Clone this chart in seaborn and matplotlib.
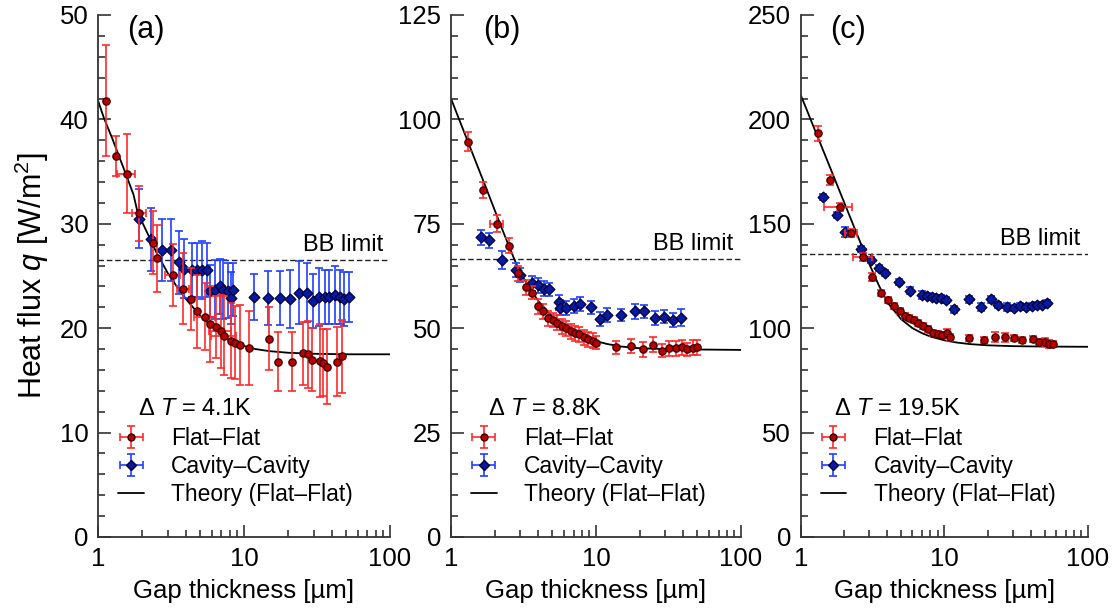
import numpy as np
import matplotlib
matplotlib.use("Agg")
import matplotlib.pyplot as plt
import seaborn as sns
from matplotlib.lines import Line2D
from matplotlib.ticker import MultipleLocator, LogLocator, FixedLocator, FixedFormatter, NullFormatter

# ---------------- data ----------------
# Panel (a)  dT = 4.1 K
a_red_g = [1.14, 1.32, 1.58, 1.91, 2.38, 2.53, 3.27, 3.82, 4.35, 4.79, 5.43, 5.88, 6.46, 7.0, 7.35,
           8.2, 8.74, 9.33, 10.8, 14.8, 17.0, 21.3, 25.3, 27.5, 29.2, 33.2, 34.7, 37.1, 43.6, 47.0]
a_red_q = [41.8, 36.5, 34.8, 31.0, 28.2, 26.7, 25.1, 23.8, 22.8, 21.6, 21.1, 20.4, 20.1, 19.7, 19.3,
           18.8, 18.6, 18.4, 18.1, 19.0, 16.8, 16.8, 17.6, 17.5, 17.0, 16.9, 16.7, 16.3, 16.8, 17.3]
a_red_err = [5.3, 1.9, 3.8, 2.6, 3.0, 3.2, 3.0, 3.4, 3.0, 3.5, 3.2, 3.6, 3.0, 3.5, 3.8,
             3.6, 3.5, 3.8, 3.5, 3.0, 2.8, 2.8, 3.0, 3.2, 3.0, 3.5, 3.2, 3.6, 3.3, 3.5]
a_red_xerr = [0, 0, 0.22, 0.21, 0, 0, 0.4, 0.35, 0, 0, 0.9, 0, 0, 1.2, 1.4,
              0, 0, 0, 0, 0, 0, 0, 0, 0, 0, 0, 0, 0, 0, 0]
a_blue_g = [1.91, 2.31, 2.73, 3.17, 3.60, 3.88, 4.40, 4.79, 5.18, 5.61, 5.88, 6.37, 6.80, 7.23, 7.76,
            8.1, 8.4, 11.8, 14.7, 17.6, 20.7, 23.9, 26.9, 29.8, 32.8, 36.1, 38.5, 41.7, 45.2, 48.1, 52.3]
a_blue_q = [30.5, 28.5, 27.5, 27.5, 26.3, 25.7, 25.6, 25.6, 25.6, 25.6, 23.6, 23.7, 24.0, 23.7, 23.6,
            22.9, 23.7, 23.0, 22.9, 22.9, 22.8, 23.4, 23.4, 22.6, 23.0, 23.0, 23.0, 23.2, 23.0, 22.8, 23.0]
a_blue_err = [2.8, 3.0, 3.0, 3.0, 3.0, 2.8, 2.6, 2.6, 2.8, 2.6, 2.5, 2.8, 2.6, 2.8, 2.6,
              2.5, 2.5, 2.2, 2.6, 2.6, 2.8, 3.0, 2.8, 2.6, 2.8, 2.6, 2.6, 2.8, 2.6, 2.6, 2.4]
a_theory_g = [1, 1.1, 1.25, 1.5, 1.75, 1.86, 2, 2.25, 2.5, 3, 3.5, 4, 5, 6, 7, 8, 10, 12, 15, 20, 30, 50, 100]
a_theory_q = [41.8, 40.1, 38.2, 35.3, 32.8, 31.2, 30.2, 28.7, 27.3, 25.3, 23.9, 22.8, 21.2, 20.2, 19.5,
              18.8, 18.3, 18.0, 17.8, 17.65, 17.55, 17.5, 17.5]
a_bb = 26.5

# Panel (b)  dT = 8.8 K
b_red_g = [1.30, 1.65, 2.07, 2.51, 2.91, 3.29, 3.60, 4.0, 4.33, 4.69, 5.02, 5.41, 5.80, 6.21, 6.69, 7.16,
           7.67, 8.26, 8.85, 9.49, 10.0, 13.7, 17.4, 21.0, 24.6, 28.4, 32.0, 35.6, 39.0, 42.6, 46.4, 50.0]
b_red_q = [94.7, 83.1, 75.0, 69.7, 63.1, 59.8, 58.5, 55.3, 54.0, 52.4, 52.0, 51.3, 50.5, 50.0, 49.3, 48.8,
           48.6, 47.8, 47.3, 47.0, 46.5, 45.4, 45.7, 44.9, 46.0, 44.6, 45.2, 45.2, 45.4, 44.9, 45.3, 45.4]
b_red_err = [2.2, 2.0, 2.0, 1.8, 1.8, 1.8, 1.6, 1.8, 1.8, 1.8, 1.6, 1.8, 1.8, 1.8, 1.8, 1.8,
             1.8, 1.8, 1.8, 1.8, 1.6, 1.6, 1.6, 1.8, 1.8, 1.6, 1.8, 1.8, 1.8, 1.6, 1.8, 1.8]
b_red_xerr = [0, 0, 0.2, 0, 0, 0, 0, 0, 0, 0, 0, 0, 0, 0, 0, 0,
              0, 0, 0, 0, 0, 0, 0, 0, 0, 0, 0, 0, 0, 0, 0, 0]
b_blue_g = [1.60, 1.83, 2.26, 2.81, 2.99, 3.60, 4.0, 4.38, 4.76, 5.58, 5.65, 6.21, 7.05, 7.76, 9.19,
            10.7, 11.9, 14.8, 18.6, 21.5, 25.5, 29.6, 33.8, 38.4]
b_blue_q = [71.8, 71.1, 66.3, 63.9, 62.7, 60.8, 60.3, 59.5, 59.3, 56.2, 54.9, 54.8, 55.3, 55.8, 55.0,
            52.2, 53.2, 53.2, 54.0, 54.0, 52.4, 52.8, 52.0, 52.5]
b_blue_err = [1.8, 1.8, 2.2, 1.6, 1.6, 1.8, 1.8, 1.8, 1.6, 1.8, 1.8, 1.6, 1.6, 1.6, 1.6,
              1.6, 1.6, 1.4, 1.8, 1.6, 1.6, 1.6, 1.6, 2.0]
b_theory_g = [1, 1.1, 1.25, 1.5, 1.75, 2, 2.25, 2.5, 2.75, 3, 3.5, 4, 5, 6, 7, 8, 10, 12, 15, 20, 30, 50, 100]
b_theory_q = [105.0, 101.3, 96.4, 89.4, 83.5, 78.3, 73.8, 69.8, 66.3, 63.3, 59.5, 56.5, 52.8, 50.6, 49.2,
              48.2, 46.9, 46.2, 45.6, 45.2, 45.0, 44.9, 44.8]
b_bb = 66.6

# Panel (c)  dT = 19.5 K
c_red_g = [1.31, 1.60, 1.87, 2.25, 2.72, 3.15, 3.63, 4.04, 4.45, 4.89, 5.28, 5.65, 6.12, 6.56, 7.11,
           7.66, 8.34, 8.98, 9.64, 10.4, 10.9, 14.8, 18.8, 22.6, 26.5, 30.3, 34.6, 41.7, 45.9, 50.3, 53.6, 57.4]
c_red_q = [193.3, 171.0, 157.9, 145.7, 134.0, 124.4, 117.0, 113.5, 110.6, 108.4, 105.8, 105.0, 103.9, 102.6,
           101.1, 99.5, 97.8, 97.2, 96.7, 97.5, 95.6, 95.2, 94.3, 95.9, 95.6, 95.2, 94.3, 94.8, 93.5, 93.5, 92.4, 92.4]
c_red_err = [3.5, 2.5, 2.0, 2.0, 2.0, 2.0, 1.5, 1.5, 1.5, 1.5, 1.5, 1.5, 1.5, 1.5, 1.5,
             1.5, 1.5, 1.5, 1.5, 2.0, 1.5, 1.5, 1.5, 2.5, 2.0, 1.5, 1.5, 1.5, 1.5, 2.0, 2.0, 1.5]
c_red_xerr = [0, 0, 0.42, 0.22, 0.4, 0, 0, 0, 0, 0, 0, 0, 0, 0, 0,
              0, 0, 0, 0, 0, 0, 0, 0, 0, 0, 0, 0, 0, 0, 0, 0, 0]
c_blue_g = [1.44, 1.80, 2.05, 2.64, 3.10, 3.50, 3.89, 4.82, 5.8, 7.0, 7.58, 8.21, 8.8, 9.48, 10.3,
            11.7, 14.8, 18.0, 21.1, 23.8, 27.2, 30.3, 33.7, 37.1, 40.6, 44.0, 47.7, 51.7]
c_blue_q = [162.7, 154.2, 146.2, 137.8, 132.5, 129.0, 126.6, 122.3, 118.0, 115.9, 115.4, 115.1, 114.6, 114.3,
            113.5, 109.0, 113.8, 110.0, 113.8, 111.1, 110.0, 109.5, 110.6, 110.0, 110.6, 111.1, 111.1, 111.9]
c_blue_err = [1.5, 1.5, 2.5, 1.5, 1.5, 1.5, 1.5, 1.5, 1.5, 2.0, 1.5, 1.5, 1.5, 1.5, 1.5,
              1.5, 1.5, 2.0, 1.5, 1.5, 2.0, 1.5, 1.5, 1.5, 1.5, 1.5, 1.5, 1.5]
c_theory_g = [1, 1.1, 1.25, 1.5, 1.75, 2, 2.25, 2.5, 2.75, 3, 3.5, 4, 5, 6, 7, 8, 10, 12, 15, 20, 30, 50, 100]
c_theory_q = [211.7, 204.7, 195.2, 181.8, 170.4, 160.5, 151.8, 144.0, 137.0, 130.8, 120.5, 112.5, 104.3,
              100.0, 97.6, 96.0, 94.2, 93.2, 92.4, 91.8, 91.4, 91.2, 91.1]
c_bb = 135.5

panel_labels = ["(a)", "(b)", "(c)"]
dT_labels = ["4.1K", "8.8K", "19.5K"]
y_tops = [50, 125, 250]
y_steps = [10, 25, 50]
x_ticks = [1, 10, 100]
x_tick_labels = ["1", "10", "100"]
legend_labels = ["Flat–Flat", "Cavity–Cavity", "Theory (Flat–Flat)"]

# ---------------- style ----------------
sns.set_theme(style="ticks")
plt.rcParams["font.family"] = ["Liberation Sans", "DejaVu Sans"]
plt.rcParams["mathtext.fontset"] = "custom"
plt.rcParams["mathtext.rm"] = "Liberation Sans"
plt.rcParams["mathtext.it"] = "Liberation Sans:italic"
for k in ("text.color", "axes.labelcolor", "xtick.labelcolor", "ytick.labelcolor"):
    plt.rcParams[k] = "black"

RED_F, RED_EDGE, RED_E = "#b80000", "#3a0000", "#ff2a2a"
BLUE_F, BLUE_EDGE, BLUE_E = "#0a1aa0", "#00003a", "#2040ff"

fig = plt.figure(figsize=(11.19, 6.11), dpi=100)
W, H = 1119.0, 611.0
rects = [(98, 390), (451, 741), (800.7, 1088)]
y_bot, y_top_px = 537, 15

panels = [
    (a_red_g, a_red_q, a_red_err, a_red_xerr, a_blue_g, a_blue_q, a_blue_err, a_theory_g, a_theory_q, a_bb),
    (b_red_g, b_red_q, b_red_err, b_red_xerr, b_blue_g, b_blue_q, b_blue_err, b_theory_g, b_theory_q, b_bb),
    (c_red_g, c_red_q, c_red_err, c_red_xerr, c_blue_g, c_blue_q, c_blue_err, c_theory_g, c_theory_q, c_bb),
]
dT_x = [0.137, 0.128, 0.115]
bb_x = [0.976, 0.972, 0.973]
lab_x = [0.099, 0.11, 0.102]

for i, (rg, rq, re, rxe, bg, bq, be, tg, tq, bb) in enumerate(panels):
    x0, x1 = rects[i]
    ax = fig.add_axes([x0 / W, 1 - y_bot / H, (x1 - x0) / W, (y_bot - y_top_px) / H])
    ax.set_xscale("log")

    rg, rq, re, rxe = map(np.asarray, (rg, rq, re, rxe))
    bg, bq, be = map(np.asarray, (bg, bq, be))

    # theory curve
    sns.lineplot(x=tg, y=tq, ax=ax, color="black", lw=1.3, zorder=2, legend=False)
    # blackbody limit
    ax.axhline(bb, color="#222222", ls=(0, (4, 2)), lw=1.0, zorder=1)
    ax.annotate("BB limit", xy=(bb_x[i], bb), xycoords=("axes fraction", "data"),
                xytext=(0, 3), textcoords="offset points", ha="right", va="bottom", fontsize=17)

    # blue (cavity-cavity)
    ax.errorbar(bg, bq, yerr=be, fmt="none", ecolor=BLUE_E, elinewidth=1.2, capsize=3, capthick=1.2, zorder=3)
    sns.scatterplot(x=bg, y=bq, ax=ax, marker="D", s=30, color=BLUE_F, edgecolor=BLUE_EDGE,
                    linewidth=0.9, zorder=4, legend=False)
    # red (flat-flat)
    ax.errorbar(rg, rq, yerr=re, fmt="none", ecolor=RED_E, elinewidth=1.2, capsize=3, capthick=1.2, zorder=5)
    m = rxe > 0
    ax.errorbar(rg[m], rq[m], xerr=rxe[m], fmt="none", ecolor=RED_E, elinewidth=1.2, capsize=3,
                capthick=1.2, zorder=5)
    sns.scatterplot(x=rg, y=rq, ax=ax, marker="o", s=28, color=RED_F, edgecolor=RED_EDGE,
                    linewidth=0.9, zorder=6, legend=False)

    # axes setup
    ax.set_xlim(1, 100)
    ax.set_ylim(0, y_tops[i])
    ax.xaxis.set_major_locator(FixedLocator(x_ticks))
    ax.xaxis.set_major_formatter(FixedFormatter(x_tick_labels))
    ax.xaxis.set_minor_locator(LogLocator(base=10, subs=np.arange(2, 10)))
    ax.xaxis.set_minor_formatter(NullFormatter())
    ax.yaxis.set_major_locator(MultipleLocator(y_steps[i]))
    ax.yaxis.set_minor_locator(MultipleLocator(y_steps[i] / 5))
    ax.tick_params(which="both", direction="in", width=1.2, color="#333333", labelsize=18.5,
                   labelcolor="black")
    ax.tick_params(which="major", length=9, pad=7)
    ax.tick_params(which="minor", length=5)
    for s in ("top", "right"):
        ax.spines[s].set_visible(False)
    for s in ("left", "bottom"):
        ax.spines[s].set_linewidth(1.3)
        ax.spines[s].set_color("#333333")
    ax.set_xlabel("Gap thickness [µm]", fontsize=18.5, labelpad=6, color="black")
    if i == 0:
        ax.set_ylabel("Heat flux $q$ [W/m$^2$]", fontsize=22, labelpad=6, color="black")
    else:
        ax.set_ylabel("")

    ax.text(lab_x[i], 1.0, panel_labels[i], transform=ax.transAxes, fontsize=22, va="top", ha="left",
            color="black")
    ax.text(dT_x[i], 0.245, "Δ $T$ = " + dT_labels[i], transform=ax.transAxes, fontsize=17,
            va="center", ha="left", color="black")

    # legend proxies
    h_red = ax.errorbar([np.nan], [np.nan], xerr=[1], yerr=[1], fmt="o", ms=5, mfc=RED_F, mec=RED_EDGE,
                        ecolor=RED_E, elinewidth=1.2, capsize=3, capthick=1.2)
    h_blue = ax.errorbar([np.nan], [np.nan], xerr=[1], yerr=[1], fmt="D", ms=5, mfc=BLUE_F, mec=BLUE_EDGE,
                         ecolor=BLUE_E, elinewidth=1.2, capsize=3, capthick=1.2)
    h_th = Line2D([], [], color="black", lw=1.3)
    leg = ax.legend([h_red, h_blue, h_th], legend_labels, loc="upper left",
                    bbox_to_anchor=(0.07, (537 - 427) / 522), frameon=False, fontsize=16.5,
                    handlelength=1.1, handletextpad=1.2, labelspacing=0.22, borderpad=0, borderaxespad=0)
    for t in leg.get_texts():
        t.set_color("black")

fig.savefig("out.png", dpi=100)
